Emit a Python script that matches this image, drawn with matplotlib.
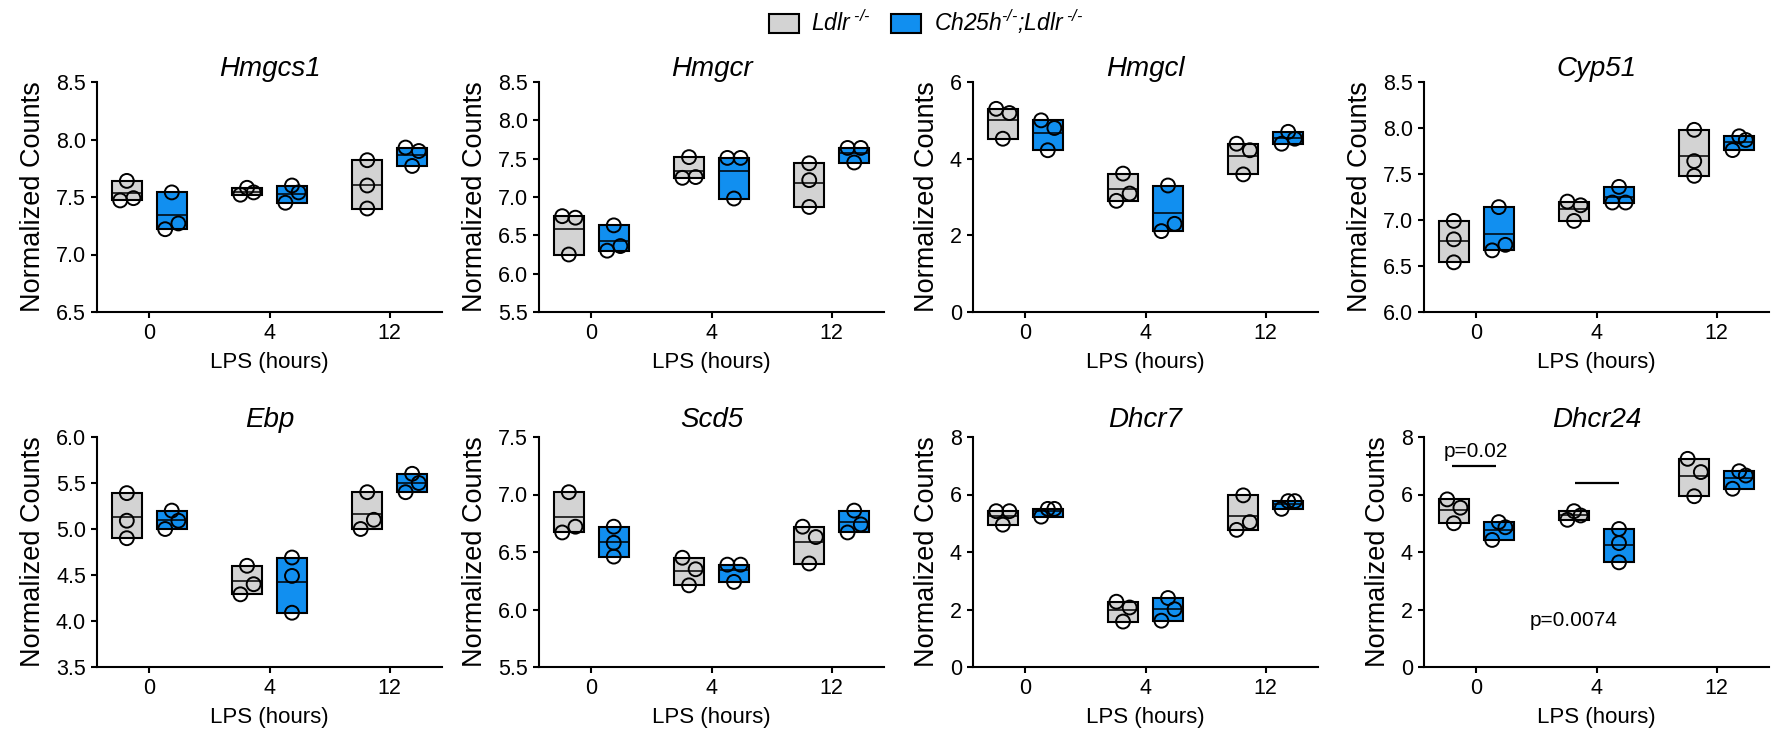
import numpy as np
import matplotlib
matplotlib.use("Agg")
from matplotlib import pyplot as plt
from matplotlib.patches import Patch

plt.rcParams['font.family'] = 'Liberation Sans'
plt.rcParams['mathtext.fontset'] = 'custom'
plt.rcParams['mathtext.rm'] = 'Liberation Sans:italic'
plt.rcParams['mathtext.it'] = 'Liberation Sans:italic'

#####################################################################
# Data: three replicates per group
timepoints = ["0", "4", "12"]

hmgcs1_ldlr = [[7.64, 7.47, 7.49], [7.58, 7.52, 7.54], [7.82, 7.60, 7.40]]
hmgcs1_dko = [[7.54, 7.22, 7.27], [7.60, 7.45, 7.54], [7.93, 7.90, 7.77]]

hmgcr_ldlr = [[6.75, 6.73, 6.25], [7.52, 7.25, 7.26], [7.44, 7.22, 6.87]]
hmgcr_dko = [[6.63, 6.30, 6.36], [7.51, 7.51, 6.98], [7.64, 7.64, 7.45]]

hmgcl_ldlr = [[5.30, 5.19, 4.52], [3.61, 3.09, 2.90], [4.39, 4.22, 3.59]]
hmgcl_dko = [[5.00, 4.80, 4.22], [3.30, 2.30, 2.11], [4.70, 4.52, 4.39]]

cyp51_ldlr = [[6.99, 6.79, 6.54], [7.20, 7.16, 6.99], [7.98, 7.64, 7.48]]
cyp51_dko = [[7.14, 6.67, 6.73], [7.36, 7.19, 7.19], [7.91, 7.87, 7.76]]

ebp_ldlr = [[5.39, 5.09, 4.90], [4.60, 4.40, 4.29], [5.40, 5.10, 5.00]]
ebp_dko = [[5.20, 5.09, 5.00], [4.69, 4.49, 4.09], [5.60, 5.50, 5.40]]

scd5_ldlr = [[7.02, 6.72, 6.67], [6.45, 6.35, 6.21], [6.72, 6.63, 6.40]]
scd5_dko = [[6.72, 6.58, 6.46], [6.39, 6.39, 6.24], [6.86, 6.74, 6.67]]

dhcr7_ldlr = [[5.42, 5.42, 4.95], [2.27, 2.07, 1.58], [5.97, 5.04, 4.77]]
dhcr7_dko = [[5.50, 5.50, 5.23], [2.40, 2.01, 1.61], [5.77, 5.77, 5.50]]

dhcr24_ldlr = [[5.83, 5.54, 5.00], [5.42, 5.27, 5.12], [7.24, 6.78, 5.94]]
dhcr24_dko = [[5.04, 4.86, 4.42], [4.80, 4.31, 3.64], [6.81, 6.66, 6.20]]

genes = ["Hmgcs1", "Hmgcr", "Hmgcl", "Cyp51", "Ebp", "Scd5", "Dhcr7", "Dhcr24"]
ldlr_sets = [hmgcs1_ldlr, hmgcr_ldlr, hmgcl_ldlr, cyp51_ldlr,
             ebp_ldlr, scd5_ldlr, dhcr7_ldlr, dhcr24_ldlr]
dko_sets = [hmgcs1_dko, hmgcr_dko, hmgcl_dko, cyp51_dko,
            ebp_dko, scd5_dko, dhcr7_dko, dhcr24_dko]

# y-axis limits and tick step for each panel
y_ranges = [(6.5, 8.5, 0.5), (5.5, 8.5, 0.5), (0, 6, 2), (6.0, 8.5, 0.5),
            (3.5, 6.0, 0.5), (5.5, 7.5, 0.5), (0, 8, 2), (0, 8, 2)]

# Dhcr24 significance annotations
p_labels = ["p=0.02", "p=0.0074"]

#####################################################################
# Style
GREY = "#d3d3d3"
BLUE = "#118ff0"
W, H = 1778, 733
offset = 0.187
bar_w = 0.25

col_left = [97, 539, 973, 1424]
row_top = [82, 437]
ax_w, ax_h = 345, 230


def spread(vals, yspan):
    # horizontal spread for circles that would overlap
    vals = np.asarray(vals)
    d = 0.058 * yspan
    a, b, c = np.argsort(vals)[::-1]
    off = np.zeros(3)
    step = 0.055
    g1 = vals[a] - vals[b] < d
    g2 = vals[b] - vals[c] < d
    if g1 and g2:
        off[a], off[b], off[c] = 0, step, -step
    elif g1:
        off[a], off[b] = -step, step
    elif g2:
        off[b], off[c] = step, -step
    return off


def draw_group(ax, x, vals, color, yspan):
    vals = np.asarray(vals)
    lo, hi = vals.min(), vals.max()
    ax.bar(x, hi - lo, bottom=lo, width=bar_w, color=color,
           edgecolor="black", linewidth=1.5, zorder=2)
    ax.hlines(vals.mean(), x - bar_w / 2, x + bar_w / 2, color="black",
              linewidth=1.1, zorder=3)
    ax.scatter(x + spread(vals, yspan), vals, s=100, facecolors="none",
               edgecolors="black", linewidths=1.4, zorder=4)


fig = plt.figure(figsize=(W / 100, H / 100), dpi=100)

xs = np.arange(len(timepoints))
for i, gene in enumerate(genes):
    r, c = divmod(i, 4)
    left = col_left[c] / W
    bottom = 1 - (row_top[r] + ax_h) / H
    ax = fig.add_axes([left, bottom, ax_w / W, ax_h / H])
    y0, y1, step = y_ranges[i]
    yspan = y1 - y0
    for j in range(len(timepoints)):
        draw_group(ax, xs[j] - offset, ldlr_sets[i][j], GREY, yspan)
        draw_group(ax, xs[j] + offset, dko_sets[i][j], BLUE, yspan)

    ax.set_xlim(-0.435, 2.435)
    ax.set_ylim(y0, y1)
    ticks = np.arange(y0, y1 + step / 2, step)
    ax.set_yticks(ticks)
    if step < 1:
        ax.set_yticklabels([f"{t:.1f}" for t in ticks])
    else:
        ax.set_yticklabels([f"{t:.0f}" for t in ticks])
    ax.set_xticks(xs)
    ax.set_xticklabels(timepoints)
    ax.spines["top"].set_visible(False)
    ax.spines["right"].set_visible(False)
    for s in ["left", "bottom"]:
        ax.spines[s].set_linewidth(1.5)
    ax.tick_params(width=1.5, length=4, labelsize=15.5, pad=4)
    ax.set_ylabel("Normalized Counts", fontsize=19.5, labelpad=7)
    ax.set_xlabel("LPS (hours)", fontsize=16, labelpad=6)
    ax.set_title(gene, fontsize=20, style="italic", pad=1 if r == 0 else 7)

    if gene == "Dhcr24":
        ax.hlines(6.98, -0.2, 0.167, color="black", linewidth=1.6)
        ax.text(0.0, 7.5, p_labels[0], ha="center", va="center", fontsize=15)
        ax.hlines(6.4, 0.82, 1.19, color="black", linewidth=1.6)
        ax.text(0.81, 1.6, p_labels[1], ha="center", va="center", fontsize=15)

handles = [Patch(facecolor=GREY, edgecolor="black", linewidth=1.5),
           Patch(facecolor=BLUE, edgecolor="black", linewidth=1.5)]
labels = [r"$\text{Ldlr}^{\text{ -/-}}$",
          r"$\text{Ch25h}^{\text{-/-}}\text{;Ldlr}^{\text{ -/-}}$"]
fig.legend(handles, labels, loc="center", bbox_to_anchor=(926 / W, 1 - 22 / H),
           ncol=2, frameon=False, fontsize=16.5, handlelength=1.3,
           handleheight=0.9, handletextpad=0.55, columnspacing=0.9)

fig.savefig("out.png", dpi=100)
